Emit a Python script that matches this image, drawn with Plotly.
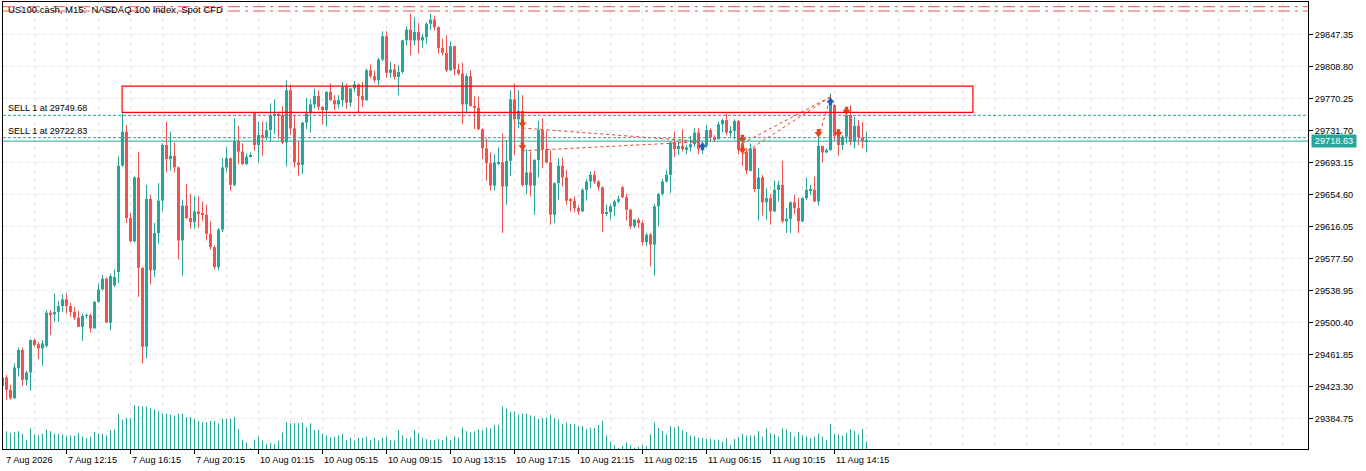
import plotly.graph_objects as go

# ---------------- data ----------------
OPEN = [
    29424, 29434, 29419, 29409, 29445, 29467, 29431, 29440, 29479, 29474,
    29469, 29472, 29512, 29510, 29513, 29520, 29528, 29520, 29513, 29506,
    29495, 29508, 29509, 29493, 29525, 29540, 29553, 29500, 29545, 29561,
    29689, 29730, 29626, 29598, 29675, 29566, 29471,
    29649, 29563, 29608, 29647, 29714, 29697, 29701, 29687, 29599, 29641,
    29626, 29621, 29634, 29631, 29630, 29607, 29591, 29567, 29612, 29687,
    29698, 29666, 29719, 29706, 29691, 29700, 29753, 29714, 29726, 29723,
    29732, 29750, 29751, 29750, 29717, 29780, 29734,
    29693, 29690, 29741, 29752, 29763, 29773, 29760, 29756, 29778, 29768,
    29763, 29768, 29784, 29765, 29782, 29787, 29773, 29768, 29804, 29797,
    29792, 29817, 29845, 29801, 29805, 29796, 29802, 29840, 29853, 29840,
    29850, 29840, 29844, 29860, 29865, 29856,
    29831, 29825, 29804, 29833, 29805, 29800, 29763, 29797, 29761, 29759,
    29733, 29710, 29692, 29665, 29692, 29693, 29664, 29695, 29769, 29745,
    29755, 29666, 29681, 29665, 29696, 29732, 29709, 29693, 29630, 29668,
    29689, 29675, 29648, 29647, 29638, 29634,
    29660, 29670, 29678, 29670, 29663, 29631, 29633, 29640, 29646, 29663,
    29651, 29636, 29616, 29624, 29620, 29597, 29606, 29594, 29640, 29655,
    29670, 29678, 29717, 29709, 29713, 29709, 29711, 29715, 29729, 29709,
    29713, 29732, 29723, 29721, 29739, 29744,
    29729, 29731, 29743, 29716, 29706, 29683, 29710, 29661, 29675, 29645,
    29650, 29634, 29660, 29666, 29622, 29625, 29645, 29638, 29622, 29650,
    29659, 29660, 29646, 29713, 29705, 29708, 29762, 29725, 29714, 29724,
    29750, 29718, 29737, 29723, 29718.0,
]
HIGH = [
    29437, 29437, 29425, 29451, 29470, 29470, 29442, 29480, 29481, 29477,
    29479, 29515, 29515, 29535, 29526, 29534, 29535, 29524, 29519, 29514,
    29511, 29511, 29511, 29526, 29547, 29557, 29554, 29559, 29564, 29700,
    29752, 29738, 29632, 29676, 29706, 29567, 29666,
    29654, 29620, 29668, 29716, 29742, 29730, 29717, 29688, 29648, 29667,
    29655, 29652, 29652, 29646, 29642, 29622, 29593, 29614, 29698, 29711,
    29699, 29746, 29737, 29716, 29704, 29705, 29754, 29742, 29742, 29742,
    29764, 29769, 29754, 29761, 29792, 29786, 29750,
    29718, 29742, 29771, 29769, 29782, 29780, 29761, 29779, 29788, 29774,
    29774, 29790, 29788, 29783, 29791, 29788, 29790, 29806, 29811, 29804,
    29819, 29851, 29851, 29814, 29812, 29810, 29841, 29857, 29872, 29868,
    29861, 29848, 29862, 29872, 29870, 29857,
    29842, 29846, 29839, 29834, 29812, 29813, 29800, 29804, 29773, 29772,
    29734, 29722, 29705, 29703, 29711, 29728, 29720, 29780, 29788, 29780,
    29774, 29709, 29706, 29697, 29743, 29746, 29731, 29708, 29669, 29698,
    29699, 29684, 29650, 29652, 29641, 29662,
    29673, 29682, 29683, 29672, 29664, 29642, 29643, 29648, 29653, 29665,
    29655, 29637, 29625, 29626, 29623, 29608, 29608, 29643, 29656, 29673,
    29684, 29718, 29730, 29718, 29733, 29714, 29725, 29734, 29734, 29718,
    29738, 29734, 29726, 29742, 29746, 29752,
    29737, 29745, 29744, 29724, 29710, 29716, 29711, 29686, 29678, 29662,
    29655, 29671, 29671, 29695, 29638, 29646, 29654, 29650, 29651, 29675,
    29666, 29676, 29732, 29713, 29710, 29776, 29763, 29732, 29726, 29758,
    29762, 29748, 29744, 29742, 29730,
]
LOW = [
    29420, 29407, 29407, 29408, 29435, 29424, 29424, 29418, 29471, 29456,
    29448, 29470, 29485, 29501, 29501, 29513, 29511, 29507, 29503, 29495,
    29478, 29505, 29488, 29493, 29524, 29539, 29500, 29491, 29543, 29548,
    29688, 29620, 29597, 29597, 29531, 29451, 29457,
    29546, 29555, 29595, 29634, 29681, 29683, 29681, 29576, 29556, 29625,
    29613, 29613, 29614, 29622, 29599, 29588, 29564, 29563, 29609, 29682,
    29659, 29664, 29691, 29690, 29690, 29699, 29707, 29693, 29701, 29720,
    29718, 29727, 29721, 29715, 29688, 29726, 29687,
    29677, 29679, 29733, 29729, 29758, 29756, 29739, 29736, 29767, 29756,
    29758, 29760, 29758, 29760, 29778, 29753, 29760, 29767, 29794, 29789,
    29786, 29815, 29795, 29795, 29793, 29774, 29800, 29834, 29822, 29834,
    29824, 29831, 29836, 29852, 29852, 29824,
    29822, 29802, 29803, 29798, 29798, 29739, 29752, 29760, 29733, 29732,
    29697, 29671, 29659, 29659, 29690, 29608, 29642, 29677, 29702, 29734,
    29664, 29655, 29652, 29630, 29675, 29686, 29692, 29618, 29620, 29648,
    29664, 29642, 29634, 29633, 29630, 29633,
    29647, 29662, 29667, 29659, 29609, 29628, 29624, 29628, 29644, 29650,
    29623, 29613, 29614, 29614, 29593, 29592, 29568, 29557, 29616, 29653,
    29669, 29656, 29700, 29702, 29706, 29703, 29706, 29712, 29703, 29703,
    29711, 29718, 29718, 29721, 29729, 29726,
    29724, 29721, 29703, 29689, 29679, 29682, 29657, 29623, 29629, 29624,
    29618, 29633, 29646, 29620, 29608, 29608, 29631, 29608, 29621, 29648,
    29654, 29645, 29641, 29693, 29704, 29707, 29719, 29701, 29708, 29716,
    29714, 29710, 29714, 29710, 29705,
]
CLOSE = [
    29434, 29419, 29409, 29446, 29467, 29431, 29440, 29479, 29473, 29469,
    29475, 29512, 29510, 29513, 29520, 29528, 29520, 29513, 29506, 29495,
    29508, 29509, 29493, 29525, 29540, 29553, 29500, 29556, 29555, 29689,
    29730, 29626, 29598, 29675, 29566, 29471, 29649,
    29563, 29608, 29647, 29714, 29697, 29701, 29687, 29599, 29641, 29626,
    29621, 29634, 29631, 29630, 29607, 29591, 29567, 29612, 29687, 29698,
    29666, 29719, 29706, 29691, 29700, 29702, 29714, 29726, 29723, 29732,
    29750, 29751, 29750, 29717, 29780, 29734, 29693,
    29690, 29741, 29752, 29763, 29773, 29760, 29756, 29778, 29768, 29763,
    29768, 29784, 29765, 29782, 29787, 29773, 29768, 29804, 29797, 29792,
    29817, 29845, 29801, 29805, 29796, 29802, 29840, 29853, 29840, 29850,
    29840, 29844, 29860, 29865, 29856, 29831,
    29825, 29804, 29833, 29805, 29800, 29763, 29797, 29761, 29759, 29733,
    29710, 29692, 29665, 29693, 29693, 29664, 29695, 29769, 29745, 29755,
    29666, 29681, 29665, 29696, 29732, 29709, 29693, 29630, 29668, 29689,
    29675, 29647, 29647, 29638, 29634, 29660,
    29670, 29678, 29670, 29663, 29631, 29633, 29640, 29646, 29649, 29651,
    29636, 29616, 29624, 29620, 29597, 29606, 29594, 29640, 29655, 29670,
    29678, 29717, 29709, 29713, 29709, 29711, 29715, 29729, 29709, 29713,
    29732, 29723, 29721, 29739, 29744, 29729,
    29731, 29743, 29708, 29706, 29683, 29710, 29661, 29675, 29645, 29650,
    29634, 29660, 29666, 29622, 29625, 29645, 29638, 29622, 29650, 29660,
    29660, 29646, 29713, 29705, 29708, 29762, 29725, 29714, 29724, 29750,
    29718, 29737, 29723, 29718.6, 29718.63,
]
VOLUME = [
    1700, 1700, 1530, 1630, 1700, 1470, 870, 1970, 1400, 1300,
    1470, 1870, 1700, 1470, 1470, 1370, 1200, 1300, 1300, 1530,
    1200, 1030, 1200, 1630, 1470, 1470, 1300, 1800, 1870, 3370,
    2800, 2970, 2970, 4200, 4130, 4070, 4070,
    3900, 3800, 3630, 3400, 3400, 3300, 3200, 3400, 3400, 3070,
    3070, 2900, 2700, 2570, 2570, 2700, 2700, 2470, 2900, 2900,
    2900, 3070, 1900, 900, 630, 70, 900, 1200, 800, 470,
    570, 470, 800, 1570, 2570, 2470, 2470,
    2470, 2530, 2070, 2470, 1800, 1870, 1470, 1300, 1130, 1200,
    1300, 1470, 870, 1070, 800, 1070, 1070, 1200, 870, 1070,
    800, 1070, 1200, 870, 800, 1800, 1300, 1030, 1070, 1800,
    1530, 1070, 970, 870, 870, 970,
    870, 1200, 870, 1200, 1070, 2070, 1700, 1570, 1700, 1870,
    1800, 2070, 1970, 2300, 2300, 4070, 3870, 3570, 3570, 3300,
    3400, 3400, 3230, 3130, 2870, 2970, 3030, 3300, 2970, 2800,
    2400, 2530, 2400, 2370, 2200, 2200,
    1900, 2030, 2030, 2300, 2700, 1300, 730, 370, 100, 300,
    630, 370, 130, 200, 400, 300, 1400, 2530, 2030, 1730,
    1400, 2200, 2030, 2200, 1800, 1630, 1300, 1230, 1070, 1070,
    970, 970, 900, 900, 730, 1030,
    400, 970, 1130, 1470, 1300, 1300, 1300, 1730, 1200, 1970,
    1530, 1400, 1200, 1970, 1870, 1630, 1200, 1630, 1300, 1200,
    1030, 1200, 1470, 1200, 870, 2400, 1470, 1400, 1300, 1530,
    1900, 1730, 1400, 1900, 730,
]

LABEL_BARS = [0, 16, 32, 48, 64, 80, 96, 112, 128, 144, 160, 176, 192, 208]
LABEL_TEXT = ["7 Aug 2026", "7 Aug 12:15", "7 Aug 16:15", "7 Aug 20:15",
              "10 Aug 01:15", "10 Aug 05:15", "10 Aug 09:15", "10 Aug 13:15",
              "10 Aug 17:15", "10 Aug 21:15", "11 Aug 02:15", "11 Aug 06:15",
              "11 Aug 10:15", "11 Aug 14:15"]
Y_TICKS = [29384.75, 29423.30, 29461.85, 29500.40, 29538.95, 29577.50,
           29616.05, 29654.60, 29693.15, 29731.70, 29770.25, 29808.80, 29847.35]

BID = 29718.63
POSITION_PRICES = [29749.68, 29722.83]
POSITION_LABELS = ["SELL 1 at 29749.68", "SELL 1 at 29722.83"]
POSITION_BARS = [211, 209]
STOP_LEVELS = [29880.6, 29875.4]

ZONE_START, ZONE_END = 29.9, 242.6
ZONE_TOP, ZONE_BOTTOM = 29785.0, 29753.4

TRADE_OPEN_BAR = [130, 130, 185, 185, 204]
TRADE_OPEN_PRICE = [29734.5, 29707.0, 29716.0, 29703.0, 29723.0]
TRADE_CLOSE_BAR = [175, 175, 207, 207, 207]
TRADE_CLOSE_PRICE = [29718.0, 29718.0, 29772.0, 29772.0, 29772.0]

TITLE = "US100.cash, M15:  NASDAQ 100 Index, Spot CFD"

assert len(OPEN) == len(HIGH) == len(LOW) == len(CLOSE) == len(VOLUME), \
    (len(OPEN), len(HIGH), len(LOW), len(CLOSE), len(VOLUME))

# ---------------- styling ----------------
BULL = "#26a69a"
BEAR = "#ef5350"
GRID = "#e6e6e6"
TRADE_RED = "#e5431c"
BUY_BLUE = "#1f5fbf"
FONT = "Liberation Sans"
W, H = 1366, 471
ML, MR, MT, MB = 3, 58, 2, 22
PX_PER_BAR = 4.0
PRICE_PER_PX = 38.55 / 32.0
plot_w = W - ML - MR
plot_h = H - MT - MB
x0 = 0.125
x1 = x0 + plot_w / PX_PER_BAR
y_top = 29847.35 + (34.3 - MT) * PRICE_PER_PX
y_bot = y_top - plot_h * PRICE_PER_PX
PX = PRICE_PER_PX


def px_to_bar(px):
    """bar-axis coordinate of an absolute horizontal pixel (for grid/tick styling)."""
    return x0 + (px - ML) / PX_PER_BAR


N = len(OPEN)
X = list(range(N))
is_bull = [c >= o for o, c in zip(OPEN, CLOSE)]
colors = [BULL if b else BEAR for b in is_bull]
body_base = [min(o, c) for o, c in zip(OPEN, CLOSE)]
body_h = [max(abs(c - o), 1.0) for o, c in zip(OPEN, CLOSE)]


def segments(xs, y0s, y1s):
    sx, sy = [], []
    for x, a, b in zip(xs, y0s, y1s):
        sx += [x, x, None]
        sy += [a, b, None]
    return sx, sy


fig = go.Figure()

# volumes (overlay axis) as 1px vertical segments
vx, vy = segments(X, [0] * N, VOLUME)
fig.add_trace(go.Scatter(x=vx, y=vy, mode="lines", yaxis="y2",
                         line=dict(color=BULL, width=1), hoverinfo="skip"))
# wicks
for flag, col in ((True, BULL), (False, BEAR)):
    idx = [i for i in X if is_bull[i] == flag]
    wx, wy = segments(idx, [LOW[i] for i in idx], [HIGH[i] for i in idx])
    fig.add_trace(go.Scatter(x=wx, y=wy, mode="lines",
                             line=dict(color=col, width=1), hoverinfo="skip"))
# bodies
fig.add_trace(go.Bar(x=X, y=body_h, base=body_base, width=0.75,
                     marker=dict(color=colors, line=dict(width=0)), hoverinfo="skip"))

# closed trades: dashed connection lines
for ob, op, cb, cp in zip(TRADE_OPEN_BAR, TRADE_OPEN_PRICE, TRADE_CLOSE_BAR, TRADE_CLOSE_PRICE):
    fig.add_trace(go.Scatter(x=[ob, cb], y=[op, cp], mode="lines",
                             line=dict(color=TRADE_RED, width=1, dash="3px,3px"),
                             hoverinfo="skip"))

# sell arrows (entries + open positions): stem + head, tip just above price
sell_x = TRADE_OPEN_BAR + POSITION_BARS
sell_p = TRADE_OPEN_PRICE + POSITION_PRICES
fig.add_trace(go.Scatter(x=sell_x, y=[p + 6.8 * PX for p in sell_p], mode="markers",
                         marker=dict(symbol="square", size=3.5, color=TRADE_RED,
                                     line=dict(width=0)), hoverinfo="skip"))
fig.add_trace(go.Scatter(x=sell_x, y=[p + 3.8 * PX for p in sell_p], mode="markers",
                         marker=dict(symbol="triangle-down", size=7, color=TRADE_RED,
                                     line=dict(width=0)), hoverinfo="skip"))
# buy (close) arrows
buy_x = sorted(set(TRADE_CLOSE_BAR))
buy_p = [TRADE_CLOSE_PRICE[TRADE_CLOSE_BAR.index(b)] for b in buy_x]
fig.add_trace(go.Scatter(x=buy_x, y=[p - 6.8 * PX for p in buy_p], mode="markers",
                         marker=dict(symbol="square", size=3.5, color=BUY_BLUE,
                                     line=dict(width=0)), hoverinfo="skip"))
fig.add_trace(go.Scatter(x=buy_x, y=[p - 3.8 * PX for p in buy_p], mode="markers",
                         marker=dict(symbol="triangle-up", size=7, color=BUY_BLUE,
                                     line=dict(width=0)), hoverinfo="skip"))

shapes = []
for lvl in STOP_LEVELS:
    shapes.append(dict(type="line", xref="paper", x0=0, x1=1, yref="y", y0=lvl, y1=lvl,
                       line=dict(color=BEAR, width=1, dash="12px,5px,3px,5px")))
for p in POSITION_PRICES:
    shapes.append(dict(type="line", xref="paper", x0=0, x1=1, yref="y", y0=p, y1=p,
                       line=dict(color=BULL, width=1, dash="3px,2px")))
shapes.append(dict(type="line", xref="paper", x0=0, x1=1, yref="y", y0=BID, y1=BID,
                   line=dict(color=BULL, width=1)))
shapes.append(dict(type="rect", xref="x", yref="y", x0=ZONE_START, x1=ZONE_END,
                   y0=ZONE_BOTTOM, y1=ZONE_TOP, line=dict(color="#ff0000", width=1.2),
                   fillcolor="rgba(0,0,0,0)"))

# time-scale grid / tick positions (every 8 bars grid, every 16 bars labelled tick)
label_tick_pos = [px_to_bar(2 + 64 * k) for k in range(1, len(LABEL_BARS))]
grid_pos = [px_to_bar(2 + 32 * k) for k in range(1, 41)]

annotations = []
annotations.append(dict(text=TITLE, xref="paper", yref="paper", x=3 / plot_w, y=1,
                        xanchor="left", yanchor="top", yshift=0, showarrow=False,
                        font=dict(family=FONT, size=9.5, color="black")))
for p, t in zip(POSITION_PRICES, POSITION_LABELS):
    annotations.append(dict(text=t, xref="paper", yref="y", x=3 / plot_w, y=p,
                            xanchor="left", yanchor="bottom", showarrow=False,
                            font=dict(family=FONT, size=9, color="black")))
annotations.append(dict(text=f"{BID:.2f}", xref="paper", yref="y", x=1, y=BID,
                        xanchor="left", yanchor="middle", xshift=3, showarrow=False,
                        bgcolor=BULL, borderpad=1, width=42,
                        font=dict(family=FONT, size=9.2, color="white")))
annotations.append(dict(text=LABEL_TEXT[0], xref="paper", yref="paper", x=1 / plot_w, y=0,
                        xanchor="left", yanchor="top", yshift=-4, showarrow=False,
                        font=dict(family=FONT, size=9.2, color="black")))
for pos, t in zip(label_tick_pos, LABEL_TEXT[1:]):
    annotations.append(dict(text=t, xref="x", yref="paper", x=pos, y=0,
                            xanchor="left", yanchor="top", yshift=-4, showarrow=False,
                            font=dict(family=FONT, size=9.2, color="black")))

fig.update_layout(
    width=W, height=H,
    margin=dict(l=ML, r=MR, t=MT, b=MB),
    paper_bgcolor="white", plot_bgcolor="white",
    showlegend=False, hovermode=False, barmode="overlay",
    font=dict(family=FONT, size=9.2, color="black"),
    xaxis=dict(range=[x0, x1], tickmode="array",
               tickvals=label_tick_pos,
               ticktext=[""] * len(label_tick_pos),
               ticks="outside", ticklen=4, tickcolor="black",
               showgrid=True, gridcolor=GRID, griddash="4px,4px",
               minor=dict(tickmode="array", tickvals=grid_pos, showgrid=True,
                          gridcolor=GRID, griddash="4px,4px", ticks=""),
               showline=True, linecolor="black", linewidth=1, mirror=True,
               zeroline=False, fixedrange=True),
    yaxis=dict(range=[y_bot, y_top], side="right", tickmode="array",
               tickvals=Y_TICKS, ticktext=[f"{v:.2f}" for v in Y_TICKS],
               ticks="outside", ticklen=4, tickcolor="black",
               tickfont=dict(family=FONT, size=9.2, color="black"),
               showgrid=True, gridcolor=GRID, griddash="4px,4px",
               showline=True, linecolor="black", linewidth=1, mirror=True,
               zeroline=False, fixedrange=True),
    yaxis2=dict(range=[0, plot_h * 96], overlaying="y", visible=False,
                fixedrange=True),
    shapes=shapes, annotations=annotations,
)

fig.write_html("out.html", config={"displayModeBar": False},
               post_script="document.body.style.margin='0';document.body.style.overflow='hidden';")
